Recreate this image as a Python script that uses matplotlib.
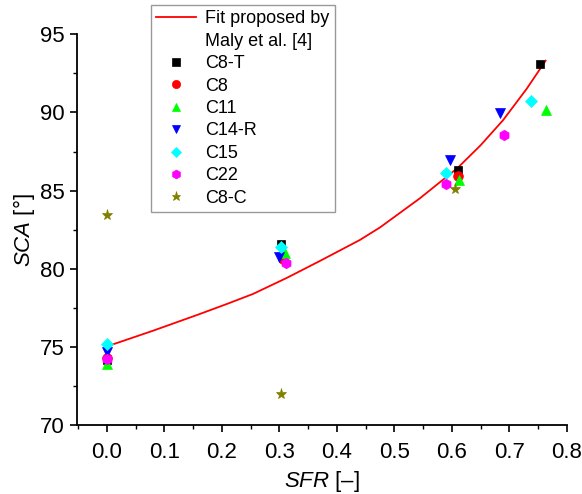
import matplotlib
matplotlib.use('Agg')
import matplotlib.pyplot as plt
from matplotlib.lines import Line2D
from matplotlib.ticker import MultipleLocator, FormatStrFormatter

plt.rcParams['font.family'] = ['Liberation Sans', 'DejaVu Sans']
plt.rcParams['mathtext.fontset'] = 'custom'
plt.rcParams['mathtext.rm'] = 'Liberation Sans'
plt.rcParams['mathtext.it'] = 'Liberation Sans:italic'

# fit curve
fit_sfr = [0.0, 0.08, 0.16, 0.21, 0.254, 0.3125, 0.37, 0.44, 0.475, 0.544, 0.61, 0.65, 0.689, 0.73, 0.763]
fit_sca = [75.05, 76.05, 77.1, 77.78, 78.4, 79.42, 80.5, 81.85, 82.65, 84.5, 86.45, 87.9, 89.5, 91.5, 93.3]

# measured samples
names = ['C8-T', 'C8', 'C11', 'C14-R', 'C15', 'C22', 'C8-C']
sfr = {
    'C8-T':  [0.0, 0.303, 0.611, 0.754],
    'C8':    [0.0, 0.307, 0.610],
    'C11':   [0.0, 0.309, 0.613, 0.763],
    'C14-R': [0.0, 0.299, 0.597, 0.683],
    'C15':   [0.0, 0.303, 0.590, 0.737],
    'C22':   [0.0, 0.312, 0.590, 0.691],
    'C8-C':  [0.0, 0.302, 0.605],
}
sca = {
    'C8-T':  [74.2, 81.59, 86.31, 93.07],
    'C8':    [74.3, 80.61, 85.93],
    'C11':   [73.9, 81.03, 85.68, 90.15],
    'C14-R': [74.71, 80.78, 86.95, 89.97],
    'C15':   [75.19, 81.42, 86.12, 90.74],
    'C22':   [74.23, 80.4, 85.42, 88.57],
    'C8-C':  [83.44, 71.99, 85.1],
}
markers = {'C8-T': 's', 'C8': 'o', 'C11': '^', 'C14-R': 'v',
           'C15': 'D', 'C22': 'h', 'C8-C': '*'}
colors = {'C8-T': 'black', 'C8': 'red', 'C11': '#00ff00', 'C14-R': 'blue',
          'C15': 'cyan', 'C22': 'magenta', 'C8-C': '#808000'}
msizes = {'C8-T': 6, 'C8': 7, 'C11': 7.5, 'C14-R': 7.5,
          'C15': 6.5, 'C22': 7.5, 'C8-C': 8}

fig = plt.figure(figsize=(5.82, 4.94), dpi=100)
ax = fig.add_axes([0.1323, 0.1387, 0.974 - 0.1323, 0.931 - 0.1387])

fit_line, = ax.plot(fit_sfr, fit_sca, color='red', linewidth=1.3, zorder=3)

handles = [fit_line, Line2D([], [], linestyle='none')]
labels = ['Fit proposed by', 'Maly et al. [4]']
for n in names:
    h, = ax.plot(sfr[n], sca[n], linestyle='none', marker=markers[n],
                 color=colors[n], markersize=msizes[n], markeredgewidth=0.5,
                 zorder=4)
    handles.append(h)
    labels.append(n)

ax.set_xlim(-0.052, 0.8)
ax.set_ylim(70, 95)
ax.xaxis.set_major_locator(MultipleLocator(0.1))
ax.xaxis.set_minor_locator(MultipleLocator(0.05))
ax.yaxis.set_major_locator(MultipleLocator(5))
ax.yaxis.set_minor_locator(MultipleLocator(2.5))
ax.xaxis.set_major_formatter(FormatStrFormatter('%.1f'))

for s in ['top', 'right']:
    ax.spines[s].set_visible(False)
for s in ['left', 'bottom']:
    ax.spines[s].set_linewidth(1.3)
ax.tick_params(which='major', direction='out', length=5, width=1.2, labelsize=16, pad=4)
ax.tick_params(which='minor', direction='out', length=3, width=1.0)
ax.tick_params(axis='x', which='major', pad=7)

ax.set_xlabel(r'$SFR$ [–]', fontsize=16, labelpad=4)
ax.set_ylabel(r'$SCA$ [°]', fontsize=16, labelpad=2)

leg = ax.legend(handles, labels, loc='upper left',
                bbox_to_anchor=(151 / 582, 1 - 5 / 494), bbox_transform=fig.transFigure,
                fontsize=13, frameon=True, fancybox=False, edgecolor='#808080',
                handlelength=2.2, handletextpad=0.5, labelspacing=0.3,
                borderpad=0.3, borderaxespad=0, markerscale=0.85)
leg.get_frame().set_linewidth(1.0)

fig.savefig('out.png', dpi=100)
